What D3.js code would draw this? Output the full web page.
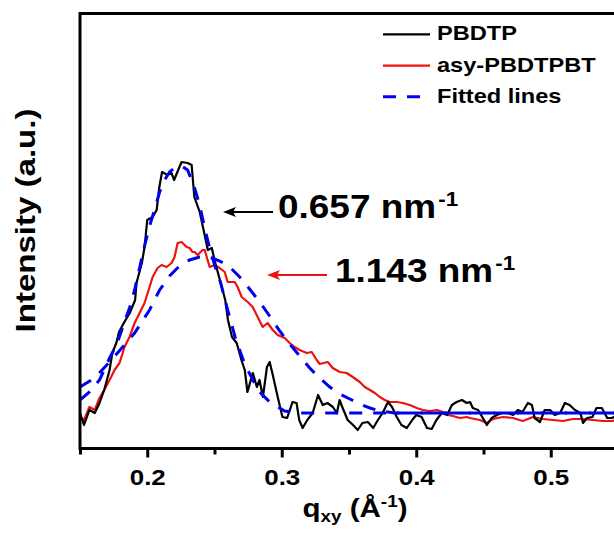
<!DOCTYPE html>
<html><head><meta charset="utf-8">
<script src="https://cdn.jsdelivr.net/npm/d3@7"></script>
<style>
body{margin:0;background:#fff}
svg{display:block}
text{font-family:"Liberation Sans",Arial,sans-serif;font-weight:bold;fill:#000}
</style>
</head><body>
<svg id="chart" width="614" height="534"></svg>
<script>
// ---- data (q in Å^-1, intensity in arbitrary units) ----
const pbdtp = [[0.150,35],[0.153,23],[0.157,38],[0.161,35],[0.1645,45],[0.168,58],[0.172,78],[0.174,95],[0.177,105],[0.179,116],[0.183,126],[0.187,135],[0.191,148],[0.192,165],[0.196,185],[0.198,201],[0.200,228],[0.204,231],[0.207,238],[0.209,261],[0.211,276],[0.215,273],[0.218,275],[0.220,268],[0.223,278],[0.2255,286],[0.230,285],[0.233,283],[0.235,251],[0.239,236],[0.243,211],[0.245,198],[0.248,200],[0.250,188],[0.254,168],[0.258,148],[0.260,128],[0.263,111],[0.2665,105],[0.270,88],[0.2725,78],[0.2745,56],[0.2785,75],[0.2815,61],[0.2835,68],[0.286,51],[0.289,81],[0.291,86],[0.293,75],[0.297,51],[0.3005,31],[0.304,30],[0.308,46],[0.311,45],[0.313,28],[0.3155,20],[0.319,28],[0.323,35],[0.327,53],[0.3305,43],[0.334,45],[0.338,41],[0.341,35],[0.343,48],[0.345,41],[0.349,28],[0.353,23],[0.3565,18],[0.360,25],[0.364,26],[0.368,20],[0.3715,28],[0.375,35],[0.379,46],[0.382,41],[0.3855,31],[0.389,23],[0.393,20],[0.397,28],[0.400,33],[0.404,31],[0.408,20],[0.4115,19],[0.415,28],[0.419,35],[0.423,33],[0.4265,43],[0.430,46],[0.434,48],[0.4375,45],[0.440,46],[0.442,40],[0.446,38],[0.4495,30],[0.4525,23],[0.456,30],[0.460,33],[0.4635,35],[0.468,35],[0.472,33],[0.4755,38],[0.479,36],[0.483,45],[0.486,43],[0.488,30],[0.492,26],[0.4955,38],[0.4995,38],[0.503,33],[0.507,35],[0.5105,45],[0.514,43],[0.518,38],[0.522,35],[0.524,25],[0.527,30],[0.531,31],[0.534,40],[0.538,40],[0.542,30],[0.5455,30],[0.550,33]];

const asyPbdtpbt = [[0.150,31],[0.153,28],[0.157,41],[0.161,38],[0.1645,50],[0.168,58],[0.172,68],[0.1757,78],[0.1794,85],[0.1831,101],[0.1868,111],[0.1906,125],[0.1943,135],[0.198,145],[0.2017,161],[0.204,171],[0.2077,180],[0.2106,183],[0.2144,181],[0.2181,185],[0.2203,191],[0.2226,205],[0.2255,206],[0.2293,201],[0.2315,200],[0.2337,196],[0.2352,196],[0.2374,193],[0.2389,195],[0.2412,198],[0.2427,198],[0.2464,181],[0.2501,183],[0.2538,180],[0.2576,176],[0.2598,166],[0.265,166],[0.2672,161],[0.2702,151],[0.2747,146],[0.2784,141],[0.2821,131],[0.2858,121],[0.2895,125],[0.2933,118],[0.297,113],[0.3022,110],[0.3059,105],[0.3096,101],[0.3133,98],[0.3186,95],[0.3223,96],[0.326,88],[0.3282,84],[0.3342,86],[0.3379,80],[0.3431,76],[0.3483,75],[0.3528,71],[0.358,66],[0.3617,61],[0.3655,58],[0.3692,55],[0.3729,51],[0.3766,48],[0.3803,46],[0.3855,46],[0.390,45],[0.3952,43],[0.4004,40],[0.4049,38],[0.4101,37],[0.4153,38],[0.4198,36],[0.4235,33],[0.4272,32],[0.4324,30],[0.4376,31],[0.4399,30],[0.4473,28],[0.4525,25],[0.457,29],[0.4644,31],[0.4719,30],[0.4793,27],[0.4867,31],[0.4942,29],[0.5016,28],[0.5091,27],[0.5165,29],[0.524,29],[0.5314,28],[0.5388,27],[0.5455,27],[0.550,28]];

const fitPbdtp = [[0.150,48],[0.157,56],[0.1645,68],[0.168,78],[0.172,90],[0.1772,103],[0.1831,126],[0.1868,140],[0.1906,158],[0.1943,180],[0.198,202],[0.2017,222],[0.2054,238],[0.2092,256],[0.2129,268],[0.2166,276],[0.2203,280],[0.2255,282],[0.230,278],[0.2352,260],[0.2389,243],[0.2434,216],[0.2464,200],[0.2501,183],[0.2546,165],[0.2598,138],[0.2657,109],[0.2724,84],[0.2828,57],[0.291,46],[0.3022,37],[0.3133,35],[0.550,35]];

const fitAsy = [[0.150,61],[0.1608,70],[0.172,86],[0.1831,103],[0.1906,115],[0.2017,138],[0.2092,158],[0.2166,172],[0.224,182],[0.2315,188],[0.2389,191],[0.2464,191],[0.2538,187],[0.2613,181],[0.2687,171],[0.2761,159],[0.2836,146],[0.291,132],[0.2985,117],[0.3059,104],[0.3133,92],[0.3208,80],[0.3282,70],[0.3357,61],[0.3431,54],[0.3506,49],[0.358,44],[0.3655,40],[0.3729,37],[0.384,35],[0.550,35]];

const majorTicks = [0.2, 0.3, 0.4, 0.5];
const majorTickLabels = ["0.2", "0.3", "0.4", "0.5"];
const minorTicks = [0.15, 0.25, 0.35, 0.45, 0.55];
const legendLabels = ["PBDTP", "asy-PBDTPBT", "Fitted lines"];
const peakLabels = ["0.657 nm", "1.143 nm"];

// ---- drawing ----
const svg = d3.select("#chart");
const L = 80, R = 618, T = 13.5, B = 448.5;
const x = d3.scaleLinear().domain([0.15, 0.55]).range([L, R]);
const y = d3.scaleLinear().domain([0, 434]).range([448, 14]);

const BLACK = "#000000", RED = "#ee1111", BLUE = "#0000ee";

svg.append("defs").append("clipPath").attr("id", "clip")
  .append("rect").attr("x", L).attr("y", T).attr("width", R - L).attr("height", B - T);

const line = d3.line().x(d => x(d[0])).y(d => y(d[1]));
const plot = svg.append("g").attr("clip-path", "url(#clip)");

plot.append("path").datum(asyPbdtpbt).attr("d", line)
  .attr("fill", "none").attr("stroke", RED).attr("stroke-width", 2.2).attr("stroke-linejoin", "round");
plot.append("path").datum(pbdtp).attr("d", line)
  .attr("fill", "none").attr("stroke", BLACK).attr("stroke-width", 2.2).attr("stroke-linejoin", "round");
[fitPbdtp, fitAsy].forEach(s => {
  plot.append("path").datum(s).attr("d", line)
    .attr("fill", "none").attr("stroke", BLUE).attr("stroke-width", 3)
    .attr("stroke-dasharray", "13,11");
});

// frame
svg.append("rect").attr("x", L).attr("y", T).attr("width", R - L).attr("height", B - T)
  .attr("fill", "none").attr("stroke", "#000").attr("stroke-width", 3);

// x axis major
const axMaj = svg.append("g").attr("transform", `translate(0,${B})`)
  .call(d3.axisBottom(x).tickValues(majorTicks).tickSize(9).tickFormat((d, i) => majorTickLabels[i]));
axMaj.select(".domain").remove();
axMaj.selectAll(".tick line").attr("stroke-width", 3);
axMaj.selectAll(".tick text")
  .attr("y", 36.5).attr("dy", 0)
  .attr("transform", "scale(1.18,1)")
  .style("font-size", "22px").style("font-family", '"Liberation Sans",Arial,sans-serif')
  .style("font-weight", "bold").attr("fill", "#000");
const axMin = svg.append("g").attr("transform", `translate(0,${B})`)
  .call(d3.axisBottom(x).tickValues(minorTicks).tickSize(6).tickFormat(""));
axMin.select(".domain").remove();
axMin.selectAll(".tick line").attr("stroke-width", 3);

// x title
const xt = svg.append("text").attr("text-anchor", "middle")
  .attr("transform", "translate(355,517) scale(1.18,1)").style("font-size", "25px");
xt.append("tspan").text("q");
xt.append("tspan").text("xy").style("font-size", "16px").attr("dy", 5);
xt.append("tspan").text(" (Å").attr("dy", -5);
xt.append("tspan").text("-1").style("font-size", "16px").attr("dy", -10);
xt.append("tspan").text(")").attr("dy", 10);

// y title
svg.append("text").attr("text-anchor", "middle")
  .attr("transform", "translate(35,220.5) rotate(-90) scale(1.18,1)")
  .style("font-size", "28px").text("Intensity (a.u.)");

// legend
const legY = [34.3, 65.7, 96.7];
const legColors = [BLACK, RED, BLUE];
legendLabels.forEach((lab, i) => {
  const ln = svg.append("line").attr("x1", 383).attr("x2", 430).attr("y1", legY[i]).attr("y2", legY[i])
    .attr("stroke", legColors[i]).attr("stroke-width", i === 2 ? 3 : 2.2);
  if (i === 2) ln.attr("stroke-dasharray", "13,11");
  svg.append("text").attr("transform", `translate(437,${legY[i] + 6}) scale(1.18,1)`)
    .style("font-size", "20px").text(lab);
});

// peak annotations with arrows
const ann = [
  {x1: 273, x2: 223, ay: 212, tx: 278, ty: 218, c: BLACK},
  {x1: 327, x2: 267, ay: 275, tx: 335, ty: 282, c: RED}
];
ann.forEach((a, i) => {
  svg.append("line").attr("x1", a.x1).attr("x2", a.x2 + 8).attr("y1", a.ay).attr("y2", a.ay)
    .attr("stroke", a.c).attr("stroke-width", 1.8);
  svg.append("path")
    .attr("d", `M${a.x2},${a.ay} L${a.x2 + 13},${a.ay - 5} L${a.x2 + 10},${a.ay} L${a.x2 + 13},${a.ay + 5} Z`)
    .attr("fill", a.c);
  const t = svg.append("text").attr("transform", `translate(${a.tx},${a.ty}) scale(1.12,1)`)
    .style("font-size", "33px");
  t.append("tspan").text(peakLabels[i]);
  t.append("tspan").text("-1").style("font-size", "20px").attr("dy", -12).attr("dx", 2);
});
</script>
</body></html>
